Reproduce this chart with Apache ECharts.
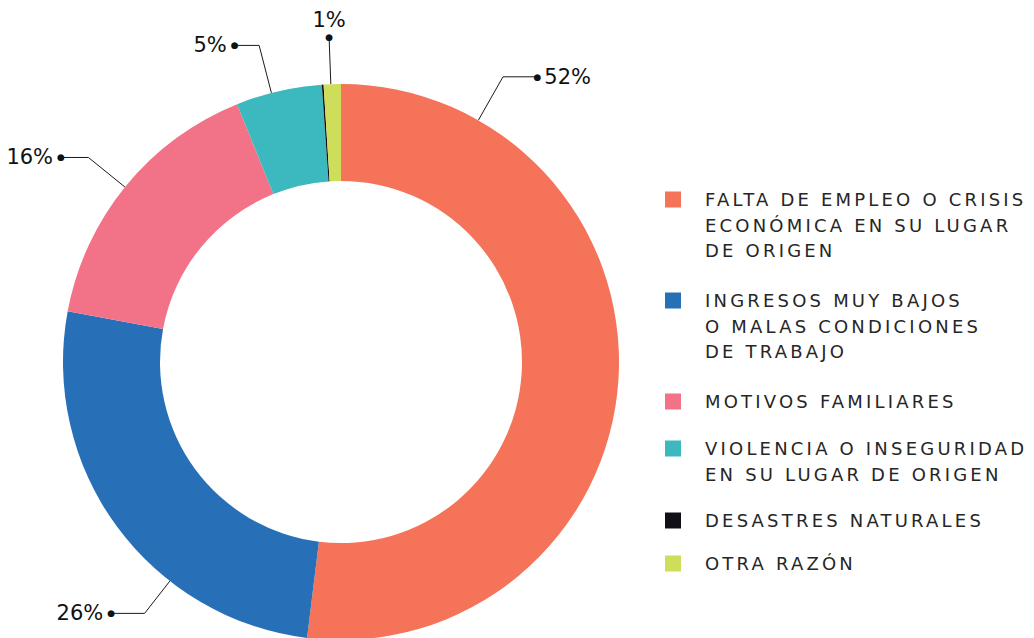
<!doctype html>
<html lang="es">
<head>
<meta charset="UTF-8">
<title>Motivos de salida</title>
<script src="https://cdn.jsdelivr.net/npm/echarts@6/dist/echarts.min.js"></script>
<style>
    html, body { margin: 0; padding: 0; background: #fff; }
    #main { width: 1034px; height: 638px; }
    /* tracking for the legend text only (svg renderer) */
    #main text[fill="#262626"] { letter-spacing: 3.2px; }
</style>
</head>
<body>
<div id="main"></div>
<script>
var categories = [
    'FALTA DE EMPLEO O CRISIS\nECONÓMICA EN SU LUGAR\nDE ORIGEN',
    'INGRESOS MUY BAJOS\nO MALAS CONDICIONES\nDE TRABAJO',
    'MOTIVOS FAMILIARES',
    'VIOLENCIA O INSEGURIDAD\nEN SU LUGAR DE ORIGEN',
    'DESASTRES NATURALES',
    'OTRA RAZÓN'
];
var values = [52, 26, 16, 5, 0.1, 1];
var labelShown = [true, true, true, true, false, true];

var colors = ['#f47359', '#2770b8', '#f27287', '#3bb9be', '#121016', '#cedd5a'];

// donut geometry
var CX = 341, CY = 362, R0 = 181, R1 = 278;
// label guides: angle (deg, clockwise from 12 o'clock), radial leg, horizontal leg (+ right, - left, 0 straight up)
var labelGuide = [
    [29.6, 50, 33],
    [218, 41, -32],
    [309, 47, -26],
    [345.5, 49, -23],
    null,
    [357.9, 47, 0]
];
// y of the square / first text line of each legend entry
var legendLineY = [199.5, 300.5, 401.5, 448.5, 520.5, 563.5];
var LH = 25.5, SQ = 16;

function polar(deg, r) {
    var a = deg * Math.PI / 180;
    return [CX + r * Math.sin(a), CY - r * Math.cos(a)];
}

var myChart = echarts.init(document.getElementById('main'), null, {renderer: 'svg'});

var option = {
    animation: false,
    color: colors,
    legend: categories.map(function (name, i) {
        var n = name.split('\n').length;
        // square sits at the top of a taller (empty) icon box, so it lines up with the first text line
        var h = (n - 1) * LH + SQ;
        return {
            data: [name],
            orient: 'vertical',
            left: 665,
            top: legendLineY[i] - LH / 2,
            padding: 0,
            icon: 'path://M0,0H' + SQ + 'V' + SQ + 'H0Z M0,' + h + 'L0,' + h,
            itemWidth: SQ,
            itemHeight: h,
            selectedMode: false,
            textStyle: {
                color: '#262626',
                fontFamily: 'DejaVu Sans',
                fontSize: 18,
                lineHeight: LH,
                padding: [0, 0, 0, 19]
            }
        };
    }),
    series: [{
        type: 'pie',
        center: [CX, CY],
        radius: [R0, R1],
        startAngle: 90,
        clockwise: true,
        avoidLabelOverlap: false,
        silent: true,
        data: categories.map(function (name, i) {
            return {
                name: name,
                value: values[i],
                label: {show: labelShown[i]},
                labelLine: {show: labelShown[i]}
            };
        }),
        label: {
            position: 'outside',
            color: '#111',
            formatter: function (p) {
                var g = labelGuide[p.dataIndex];
                if (!g) return '';
                if (g[2] > 0) return '{dot|●}{vr|' + p.value + '%}';
                if (g[2] < 0) return '{vl|' + p.value + '%}{dot|●}';
                return '{vt|' + p.value + '%}\n{dot|●}';
            },
            rich: {
                dot: {fontSize: 9, lineHeight: 10, color: '#111', fontFamily: 'DejaVu Sans'},
                vr: {fontSize: 21, color: '#111', fontFamily: 'DejaVu Sans', padding: [0, 0, 0, 3]},
                vl: {fontSize: 21, color: '#111', fontFamily: 'DejaVu Sans', padding: [0, 4, 0, 0]},
                vt: {fontSize: 21, lineHeight: 24, color: '#111', fontFamily: 'DejaVu Sans'}
            }
        },
        labelLine: {
            show: true,
            lineStyle: {color: '#1a1a1a', width: 1}
        },
        labelLayout: function (p) {
            var g = labelGuide[p.dataIndex];
            if (!g) return {};
            var a = polar(g[0], R1);
            var b = polar(g[0], R1 + g[1]);
            var c = [b[0] + g[2], b[1]];
            if (g[2] > 0) {
                return {x: c[0] - 2.5, y: c[1], align: 'left', verticalAlign: 'middle', labelLinePoints: [a, b, c]};
            }
            if (g[2] < 0) {
                return {x: c[0] + 2.5, y: c[1], align: 'right', verticalAlign: 'middle', labelLinePoints: [a, b, c]};
            }
            return {x: c[0], y: c[1] + 5, align: 'center', verticalAlign: 'bottom', labelLinePoints: [a, b, c]};
        }
    }]
};

myChart.setOption(option);
</script>
</body>
</html>
